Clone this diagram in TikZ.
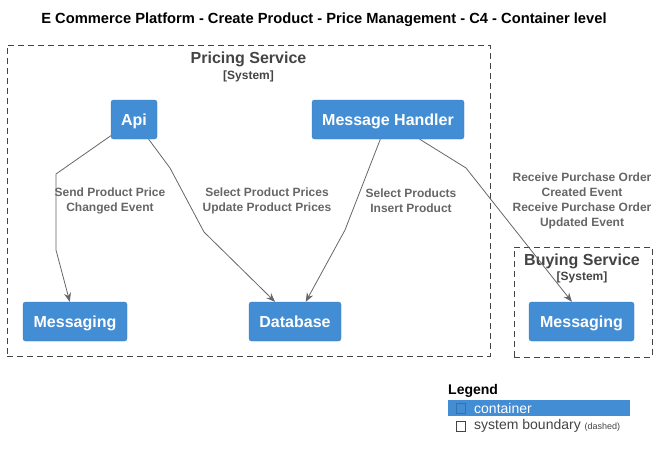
\documentclass[tikz,border=0pt]{standalone}
\usepackage{fontspec}
\setmainfont{Liberation Sans}
\usetikzlibrary{arrows.meta,positioning}
\definecolor{c4blue}{HTML}{438DD5}
\definecolor{c4line}{HTML}{666666}
\definecolor{c4text}{HTML}{444444}
\tikzset{
  container/.style={fill=c4blue, draw=c4blue!85!black, line width=0.3pt, rounded corners=2.5pt,
    text=white, font=\fontsize{16}{18}\selectfont\bfseries, minimum height=39pt, inner sep=0pt,
    text height=11.5pt, text depth=0pt},
  boundary/.style={draw=c4text, dash pattern=on 6pt off 4pt, line width=0.8pt, inner sep=0pt},
  btitle/.style={text=c4text, font=\fontsize{16}{18}\selectfont\bfseries, inner sep=0pt},
  btype/.style={text=c4text, font=\fontsize{12}{14}\selectfont\bfseries, inner sep=0pt},
  rel/.style={draw=c4line, line width=0.8pt, -{Stealth[length=9pt,width=7pt]}},
  rellabel/.style={text=c4line, font=\fontsize{12}{15}\selectfont\bfseries, align=center, inner sep=0pt},
}
\begin{document}
\begin{tikzpicture}[x=1pt, y=-1pt]
  \useasboundingbox (0,0) rectangle (660,460);
  % title
  \node[font=\fontsize{14.7}{16}\selectfont\bfseries, inner sep=0pt] (title) at (324,19.5) {E Commerce Platform - Create Product - Price Management - C4 - Container level};

  % boundaries
  \node[boundary, minimum width=483pt, minimum height=311pt] (pricing) at (248.5,200.5) {};
  \node[btitle] (pricingname) at (248.5,59.5) {Pricing Service};
  \node[btype, below=3pt of pricingname] (pricingtype) {[System]};
  \node[boundary, minimum width=138pt, minimum height=110pt] (buying) at (583,302) {};
  \node[btitle] (buyingname) at (582,261) {Buying Service};
  \node[btype, below=3pt of buyingname] (buyingtype) {[System]};

  % containers
  \node[container, minimum width=46pt] (api) at (134,119.5) {Api};
  \node[container, minimum width=152pt] (handler) at (388,119.5) {Message Handler};
  \node[container, minimum width=104pt] (messaging) at (75,321.5) {Messaging};
  \node[container, minimum width=92pt] (database) at (295,321.5) {Database};
  \node[container, minimum width=105pt] (buymessaging) at (581.5,321.5) {Messaging};

  % relations
  \draw[rel] (api) -- (56,174) -- (56,250) -- (messaging);
  \draw[rel] (api) -- (170,168) -- (204,232) -- (database);
  \draw[rel] (handler) -- (345,230) -- (database);
  \draw[rel] (handler) -- (466,168) -- (buymessaging.116);
  \node[rellabel] (l1) at (110,201) {Send Product Price\\Changed Event};
  \node[rellabel] (l2) at (267,201) {Select Product Prices\\Update Product Prices};
  \node[rellabel] (l3) at (411,201) {Select Products\\Insert Product};
  \node[rellabel] (l4) at (582,201) {Receive Purchase Order\\Created Event\\Receive Purchase Order\\Updated Event};

  % legend
  \node[anchor=west, font=\fontsize{14}{16}\selectfont\bfseries, inner sep=0pt] (legend) at (448,391) {Legend};
  \fill[c4blue] (448,400) rectangle (630,416);
  \draw[c4blue!80!black, line width=0.5pt] (456,403) rectangle (465,413);
  \node[anchor=west, text=white, font=\fontsize{14}{16}\selectfont, inner sep=0pt] (lcontainer) at (474,408.5) {container};
  \draw[c4text, line width=0.5pt] (456,421) rectangle (465,431);
  \node[anchor=west, text=c4text, font=\fontsize{14}{16}\selectfont, inner sep=0pt] (lboundary) at (474,426) {system boundary {\fontsize{9}{10}\selectfont(dashed)}};
\end{tikzpicture}
\end{document}
